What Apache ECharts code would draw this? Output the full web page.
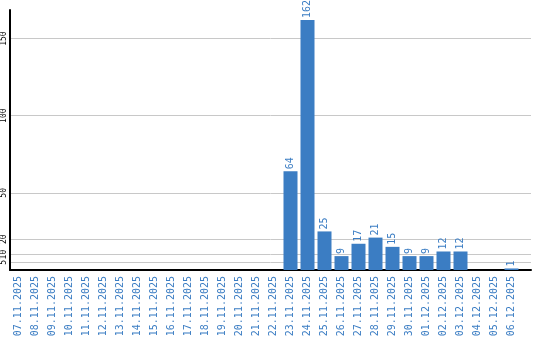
<!DOCTYPE html>
<html><head><meta charset="utf-8">
<script src="https://cdn.jsdelivr.net/npm/echarts@6/dist/echarts.min.js"></script>
<style>html,body{margin:0;padding:0;background:#fff}#c{width:540px;height:340px}</style>
</head><body><div id="c"></div>
<script>
const categories = ["07.11.2025","08.11.2025","09.11.2025","10.11.2025","11.11.2025","12.11.2025","13.11.2025","14.11.2025","15.11.2025","16.11.2025","17.11.2025","18.11.2025","19.11.2025","20.11.2025","21.11.2025","22.11.2025","23.11.2025","24.11.2025","25.11.2025","26.11.2025","27.11.2025","28.11.2025","29.11.2025","30.11.2025","01.12.2025","02.12.2025","03.12.2025","04.12.2025","05.12.2025","06.12.2025"];
const values = [0,0,0,0,0,0,0,0,0,0,0,0,0,0,0,0,64,162,25,9,17,21,15,9,9,12,12,0,0,1];
const yTicks = [5,10,20,50,100,150];
const yMax = 168.5;
const blue = '#3b7dc3';
const mono = '"DejaVu Sans Mono", monospace';
const chart = echarts.init(document.getElementById('c'), null, {renderer:'canvas'});
chart.setOption({
  animation:false,
  grid:[
    {left:10, right:9, top:10, bottom:70},
    {left:10, right:20, top:10, bottom:70}
  ],
  xAxis:[
    {gridIndex:0, type:'value', min:0, max:1, axisLine:{show:true,onZero:false,lineStyle:{color:'#000',width:2}}, axisTick:{show:false}, axisLabel:{show:false}, splitLine:{show:false}},
    {gridIndex:1, type:'category', data:categories, axisLine:{show:false}, axisTick:{show:false},
      axisLabel:{interval:0, rotate:90, color:blue, fontFamily:mono, fontSize:10, margin:6}}
  ],
  yAxis:[
    {gridIndex:0, type:'value', min:0, max:yMax,
      axisLine:{show:true,lineStyle:{color:'#000',width:2}},
      axisTick:{show:false, customValues:yTicks},
      axisLabel:{customValues:yTicks, rotate:90, color:'#000', fontFamily:mono, fontSize:8, margin:2},
      splitLine:{show:true, lineStyle:{color:'#c8c8c8', width:1}}},
    {gridIndex:1, type:'value', min:0, max:yMax, show:false, splitLine:{show:false}}
  ],
  series:[{
    type:'bar', xAxisIndex:1, yAxisIndex:1, data:values, barWidth:14,
    itemStyle:{color:blue},
    label:{show:true, position:'top', rotate:90, align:'left', verticalAlign:'middle', distance:2,
      color:blue, fontFamily:mono, fontSize:10,
      formatter:p=>p.value?String(p.value):''}
  }]
});
</script></body></html>
